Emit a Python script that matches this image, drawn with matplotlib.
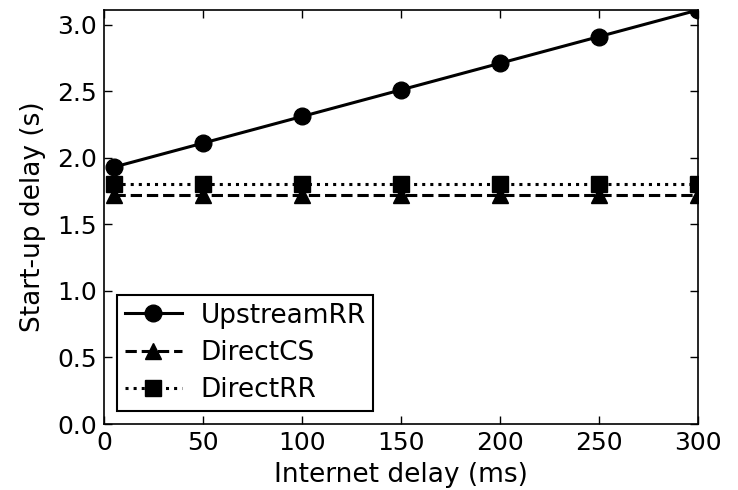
import matplotlib
matplotlib.use("Agg")
import matplotlib.pyplot as plt

x = [5, 50, 100, 150, 200, 250, 300]
upstream_rr = [1.93, 2.11, 2.31, 2.51, 2.71, 2.91, 3.11]
direct_cs = [1.72, 1.72, 1.72, 1.72, 1.72, 1.72, 1.72]
direct_rr = [1.80, 1.80, 1.80, 1.80, 1.80, 1.80, 1.80]
xticks = [0, 50, 100, 150, 200, 250, 300]
yticks = [0.0, 0.5, 1.0, 1.5, 2.0, 2.5, 3.0]

plt.rcParams['font.family'] = ['DejaVu Sans']
fig = plt.figure(figsize=(7.38, 4.9), dpi=100)
ax = fig.add_axes([104/738, 66/490, 594/738, 414/490])

ms = 12
ax.plot(x, upstream_rr, color='black', linestyle='-', linewidth=2.2, marker='o', markersize=ms, label='UpstreamRR')
ax.plot(x, direct_cs, color='black', linestyle='--', linewidth=2.2, marker='^', markersize=ms, label='DirectCS')
ax.plot(x, direct_rr, color='black', linestyle=':', linewidth=2.2, marker='s', markersize=ms, label='DirectRR')

ax.set_xlim(0, 300)
ax.set_ylim(0, 3.11)
ax.set_xticks(xticks)
ax.set_yticks(yticks)
ax.set_xticklabels([str(t) for t in xticks])
ax.set_yticklabels([f"{t:.1f}" for t in yticks])
ax.tick_params(direction='in', top=True, right=True, length=6, width=1, labelsize=18, pad=5)
for s in ax.spines.values():
    s.set_linewidth(1.2)
ax.set_xlabel('Internet delay (ms)', fontsize=19, labelpad=5)
ax.set_ylabel('Start-up delay (s)', fontsize=19, labelpad=8)

leg = ax.legend(loc='lower left', fontsize=19, frameon=True, fancybox=False,
                edgecolor='black', framealpha=1, handlelength=2.15, borderaxespad=0.5,
                handletextpad=0.7, borderpad=0.3, labelspacing=0.42)
leg.get_frame().set_linewidth(1.5)

fig.savefig('out.png', dpi=100)
